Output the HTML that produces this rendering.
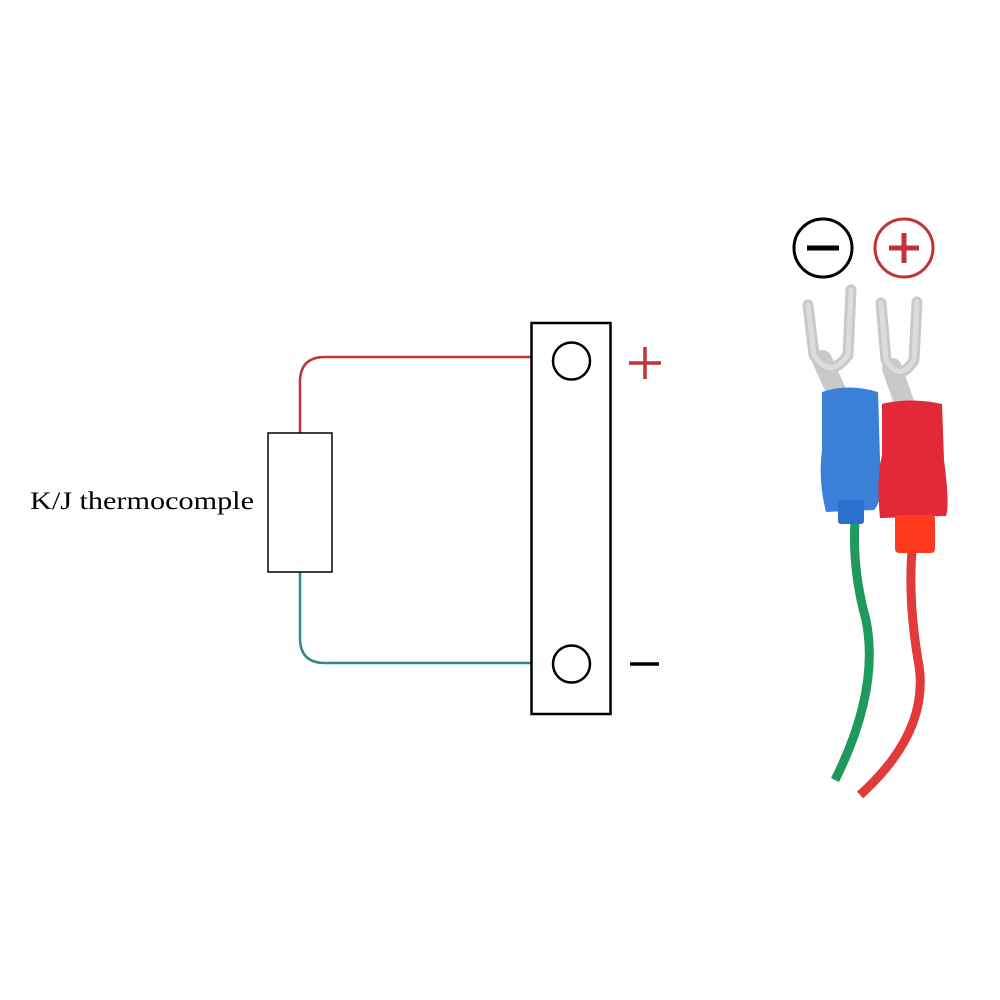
<!DOCTYPE html>
<html><head><meta charset="utf-8"><style>
html,body{margin:0;padding:0;background:#fff;width:1000px;height:1000px;overflow:hidden}
</style></head><body>
<svg width="1000" height="1000" viewBox="0 0 1000 1000" xmlns="http://www.w3.org/2000/svg">
<rect width="1000" height="1000" fill="#fff"/>
<path d="M300 433 L300 382 Q300 357 325 357 L531 357" fill="none" stroke="#c0343a" stroke-width="2.5"/>
<path d="M300 572 L300 638 Q300 663 325 663 L531 663" fill="none" stroke="#2e8b7f" stroke-width="2.5"/>
<rect x="268" y="433" width="64" height="139" fill="#fff" stroke="#000" stroke-width="1.5"/>
<text x="30" y="509" font-family="Liberation Serif, serif" font-size="25" textLength="224" lengthAdjust="spacingAndGlyphs" fill="#000">K/J thermocomple</text>
<rect x="531.5" y="323" width="79" height="391" fill="#fff" stroke="#000" stroke-width="2.5"/>
<circle cx="571.5" cy="361" r="18.5" fill="none" stroke="#000" stroke-width="2.5"/>
<circle cx="571.5" cy="664" r="18.5" fill="none" stroke="#000" stroke-width="2.5"/>
<path d="M629 363 H661 M645 347 V379" stroke="#c0343a" stroke-width="3.5"/>
<path d="M630 664 H659" stroke="#000" stroke-width="3.5"/>
<circle cx="823" cy="248" r="29" fill="none" stroke="#000" stroke-width="3"/>
<path d="M807 248 H839" stroke="#000" stroke-width="5"/>
<circle cx="904" cy="248" r="29" fill="none" stroke="#c0343a" stroke-width="3"/>
<path d="M889 248 H919 M904 233 V263" stroke="#c0343a" stroke-width="5"/>
<!-- cables -->
<path d="M855 520 Q852 570 866 620 Q880 690 835 780" fill="none" stroke="#1f9a5c" stroke-width="9"/>
<path d="M912 550 Q908 600 918 660 Q932 730 860 795" fill="none" stroke="#e03a3a" stroke-width="9"/>
<!-- forks -->
<g fill="none" stroke="#c9c9cc" stroke-linecap="round" stroke-linejoin="round">
<path d="M808 305 L814 355 Q830 380 848 355 L851 290" stroke-width="11"/>
<path d="M881 303 L886 360 Q900 383 914 360 L917 302" stroke-width="11"/>
<path d="M822 360 L838 395 M892 368 L905 405" stroke-width="20"/>
</g>
<g fill="none" stroke="#dcdcde" stroke-linecap="round" stroke-width="5">
<path d="M808 305 L814 355 Q830 380 848 355 L851 290"/>
<path d="M881 303 L886 360 Q900 383 914 360 L917 302"/>
</g>
<!-- blue sleeve -->
<path d="M822 392 Q848 383 878 392 L880 460 Q884 500 874 510 L826 512 Q818 480 822 450 Z" fill="#3a7fd8"/>
<rect x="838" y="500" width="26" height="24" rx="3" fill="#2c6fcf"/>
<!-- red sleeve -->
<path d="M882 404 Q910 397 942 404 L944 460 Q950 505 946 516 L880 518 Q876 480 882 455 Z" fill="#e32838"/>
<rect x="895" y="515" width="40" height="38" rx="4" fill="#ff3a1f"/>
</svg>
</body></html>
